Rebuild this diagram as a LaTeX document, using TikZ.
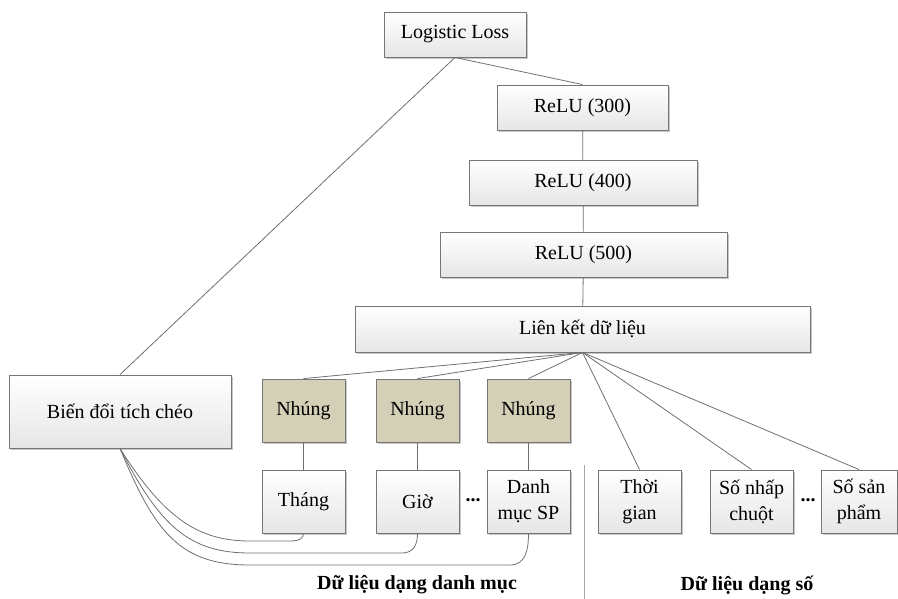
\documentclass[tikz,border=0pt]{standalone}
\usepackage{fontspec}
\setmainfont{Liberation Serif}
\usetikzlibrary{shadows}
\definecolor{edge}{RGB}{118,118,118}
\definecolor{wire}{RGB}{112,112,112}
\definecolor{embed}{RGB}{212,208,183}
\definecolor{boxlow}{RGB}{230,230,230}
\tikzset{
  box/.style={draw=edge, line width=0.9pt, top color=white, bottom color=boxlow,
    drop shadow={shadow xshift=2pt, shadow yshift=-2pt, fill=black, opacity=0.22},
    inner sep=0pt, align=center, font=\fontsize{20}{26}\selectfont},
  embedbox/.style={box, top color=embed, bottom color=embed},
  wirestyle/.style={draw=wire, line width=0.8pt},
  dots/.style={font=\fontsize{20}{24}\selectfont\bfseries},
  grouplabel/.style={font=\fontsize{20}{24}\selectfont\bfseries}
}
\begin{document}
\begin{tikzpicture}[x=1pt, y=-1pt]
\useasboundingbox (0,0) rectangle (898,599);

% deep branch
\node[box, minimum width=142pt, minimum height=45pt] (loss) at (455,34.5) {Logistic Loss};
\node[box, minimum width=171pt, minimum height=45pt] (r300) at (582.5,107.5) {ReLU (300)};
\node[box, minimum width=228pt, minimum height=45pt] (r400) at (583,182.5) {ReLU (400)};
\node[box, minimum width=287pt, minimum height=45pt] (r500) at (583.5,254.5) {ReLU (500)};
\node[box, minimum width=455pt, minimum height=46pt] (concat) at (582.5,329) {Liên kết dữ liệu};

% wide branch
\node[box, minimum width=222pt, minimum height=73pt] (cross) at (120,411.5) {Biến đổi tích chéo};

% embeddings
\node[embedbox, minimum width=83pt, minimum height=63pt] (e1) at (303.5,410.5) {Nhúng};
\node[embedbox, minimum width=83pt, minimum height=63pt] (e2) at (417.5,410.5) {Nhúng};
\node[embedbox, minimum width=83pt, minimum height=63pt] (e3) at (528.5,410.5) {Nhúng};

% categorical inputs
\node[box, minimum width=83pt, minimum height=63pt] (month) at (303.5,501.5) {Tháng};
\node[box, minimum width=83pt, minimum height=63pt] (hour) at (417.5,501.5) {Giờ};
\node[box, minimum width=83pt, minimum height=63pt] (cat) at (528.5,501.5) {Danh\\mục SP};
\node[dots] (d1) at (473,500) {...};

% numeric inputs
\node[box, minimum width=83pt, minimum height=63pt] (time) at (639.5,501.5) {Thời\\gian};
\node[box, minimum width=83pt, minimum height=63pt] (clicks) at (751.5,501.5) {Số nhấp\\chuột};
\node[box, minimum width=76pt, minimum height=63pt] (prods) at (859,501.5) {Số sản\\phẩm};
\node[dots] (d2) at (808,500) {...};

% group labels and divider
\node[grouplabel] (lcat) at (417,585) {Dữ liệu dạng danh mục};
\node[grouplabel] (lnum) at (747,585) {Dữ liệu dạng số};
\coordinate (divtop) at (584,465);
\coordinate (divbot) at (584,599);
\draw[wirestyle, draw=gray!70] (divtop) -- (divbot);

% connectors
\draw[wirestyle] (loss.south) -- (r300.north);
\draw[wirestyle] (loss.south) -- (cross.north);
\draw[wirestyle] (r300) -- (r400);
\draw[wirestyle] (r400) -- (r500);
\draw[wirestyle] (r500) -- (concat);
\foreach \t in {e1,e2,e3,time,clicks,prods}
  \draw[wirestyle] (concat.south) -- (\t.north);
\draw[wirestyle] (e1) -- (month);
\draw[wirestyle] (e2) -- (hour);
\draw[wirestyle] (e3) -- (cat);
\draw[wirestyle] (cross.south) .. controls (165,520) and (200,541) .. (250,541)
  -- (290,541) .. controls (300,541) and (303.5,538) .. (month.south);
\draw[wirestyle] (cross.south) .. controls (160,527) and (190,553) .. (250,553)
  -- (402,553) .. controls (414,553) and (417.5,544) .. (hour.south);
\draw[wirestyle] (cross.south) .. controls (155,533) and (180,565) .. (250,565)
  -- (510,565) .. controls (525,565) and (528.5,551) .. (cat.south);
\end{tikzpicture}
\end{document}
